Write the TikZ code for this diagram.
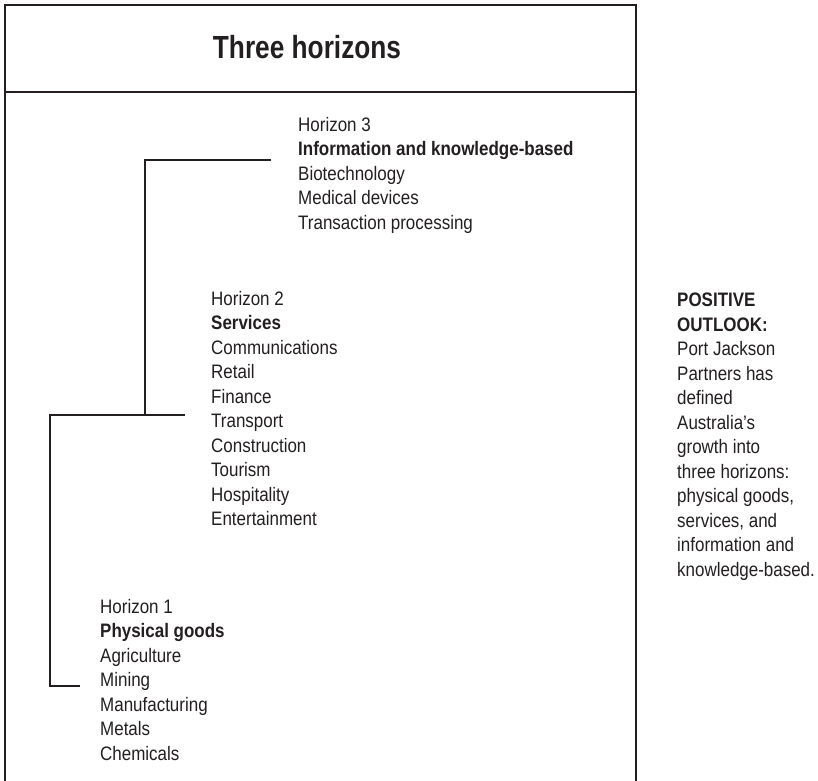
\documentclass[tikz,border=0pt]{standalone}
\usepackage{fontspec}
\setmainfont{Liberation Sans}[FakeStretch=0.87]
\newfontfamily\titlefont{Liberation Sans}[FakeStretch=0.82]
\definecolor{ink}{HTML}{231F20}
\begin{document}
\begin{tikzpicture}[x=1pt,y=-1pt,
  frame/.style={draw=ink,line width=1.8pt},
  link/.style={draw=ink,line width=1.4pt},
  block/.style={anchor=north west,inner sep=0pt,align=left,text=ink,
    font=\fontsize{19.5}{24.5}\selectfont},
  titletext/.style={anchor=base,inner sep=0pt,text=ink,
    font=\titlefont\bfseries\fontsize{32}{36}\selectfont}]
\useasboundingbox (0,0) rectangle (818,780);
% frame, open at the bottom
\draw[frame] (5,782) -- (5,5) -- (636,5) -- (636,782);
\draw[frame] (5,92) -- (636,92);
\node[titletext] (title) at (307,58) {Three horizons};
% horizon blocks
\node[block] (h3) at (298,117) {Horizon 3\\\textbf{Information and knowledge-based}\\Biotechnology\\Medical devices\\Transaction processing};
\node[block] (h2) at (211,291) {Horizon 2\\\textbf{Services}\\Communications\\Retail\\Finance\\Transport\\Construction\\Tourism\\Hospitality\\Entertainment};
\node[block] (h1) at (100,599) {Horizon 1\\\textbf{Physical goods}\\Agriculture\\Mining\\Manufacturing\\Metals\\Chemicals};
\node[block] (note) at (677,293) {\textbf{POSITIVE}\\\textbf{OUTLOOK:}\\Port Jackson\\Partners has\\defined\\Australia’s\\growth into\\three horizons:\\physical goods,\\services, and\\information and\\knowledge-based.};
% connectors
\coordinate (c3) at (271,160);
\coordinate (j2) at (145,415);
\coordinate (c2) at (185,415);
\coordinate (k2) at (50,415);
\coordinate (c1) at (80,686);
\draw[link] (c3) -| (j2);
\draw[link] (c2) -- (k2) |- (c1);
\end{tikzpicture}
\end{document}
